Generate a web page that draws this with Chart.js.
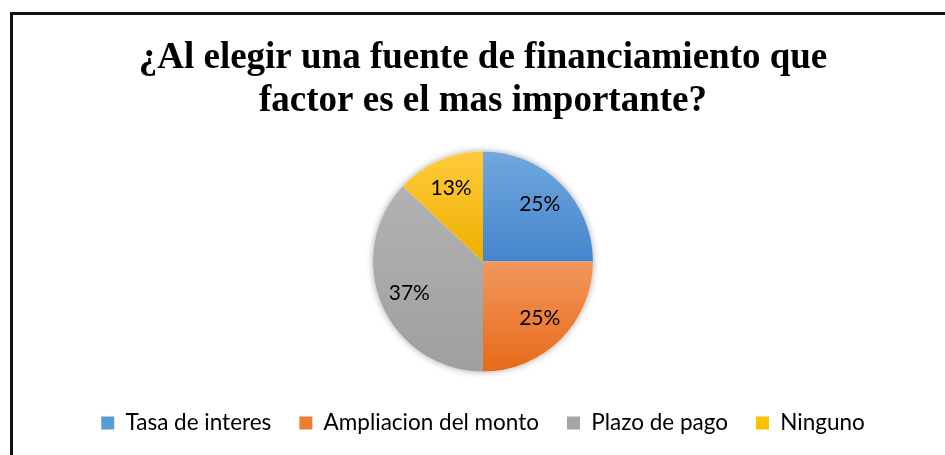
<!DOCTYPE html>
<html><head><meta charset="utf-8">
<script src="https://cdn.jsdelivr.net/npm/chart.js@4"></script>
<style>
html,body{margin:0;padding:0;background:#fff;overflow:hidden;width:945px;height:455px}
#wrap{position:absolute;left:10px;top:12px;width:960px;height:460px;border-left:3px solid #111;border-top:3px solid #111;background:#fff}
canvas{position:absolute;left:0;top:0}
</style></head>
<body><div id="wrap"><canvas id="c" width="940" height="440"></canvas></div>
<script>
const categories = ['Tasa de interes', 'Ampliacion del monto', 'Plazo de pago', 'Ninguno'];
const values = [25, 25, 37, 13];
const percentLabels = ['25%', '25%', '37%', '13%'];
const titleLines = ['¿Al elegir una fuente de financiamiento que', 'factor es el mas importante?'];
const topColors = ['#70A8DE', '#F2975E', '#B2B2B2', '#FFCA3C'];
const bottomColors = ['#4485CC', '#E66A18', '#9F9F9F', '#EDB000'];
const legendColors = ['#5B9BD5', '#ED7D31', '#A5A5A5', '#FFC000'];

const PIE_R = 110;

function sliceGradient(context) {
  const chart = context.chart, area = chart.chartArea, i = context.dataIndex;
  if (!area) return legendColors[i];
  const cx = (area.left + area.right) / 2, cy = (area.top + area.bottom) / 2;
  const total = values.reduce((a, b) => a + b, 0);
  let a0 = -Math.PI / 2;
  for (let k = 0; k < i; k++) a0 += values[k] / total * 2 * Math.PI;
  const a1 = a0 + values[i] / total * 2 * Math.PI;
  const ys = [cy, cy + Math.sin(a0) * PIE_R, cy + Math.sin(a1) * PIE_R];
  for (const ang of [-Math.PI / 2, Math.PI / 2, 3 * Math.PI / 2]) {
    if (ang >= a0 - 1e-9 && ang <= a1 + 1e-9) ys.push(cy + Math.sin(ang) * PIE_R);
  }
  const g = chart.ctx.createLinearGradient(0, Math.min(...ys), 0, Math.max(...ys));
  g.addColorStop(0, topColors[i]);
  g.addColorStop(1, bottomColors[i]);
  return g;
}

const shadowPlugin = {
  id: 'pieShadow',
  beforeDatasetsDraw(chart) {
    const el = chart.getDatasetMeta(0).data[0];
    if (!el) return;
    const c = chart.ctx;
    c.save();
    c.shadowColor = 'rgba(0,0,0,0.35)';
    c.shadowBlur = 7;
    c.fillStyle = '#ffffff';
    c.beginPath();
    c.arc(el.x, el.y, el.outerRadius, 0, Math.PI * 2);
    c.fill();
    c.restore();
  }
};

const labelPlugin = {
  id: 'sliceLabels',
  afterDatasetsDraw(chart) {
    const c = chart.ctx;
    c.save();
    c.font = '21px Lato';
    c.fillStyle = '#000';
    c.textAlign = 'center';
    c.textBaseline = 'middle';
    chart.getDatasetMeta(0).data.forEach((el, i) => {
      const mid = (el.startAngle + el.endAngle) / 2;
      const r = el.outerRadius * 0.73;
      c.fillText(percentLabels[i], el.x + Math.cos(mid) * r, el.y + Math.sin(mid) * r);
    });
    c.restore();
  }
};

new Chart(document.getElementById('c'), {
  type: 'pie',
  data: {
    labels: categories,
    datasets: [{
      data: values,
      backgroundColor: sliceGradient,
      borderWidth: 0,
      radius: PIE_R
    }]
  },
  options: {
    responsive: false,
    animation: false,
    devicePixelRatio: 1,
    layout: { padding: { top: 0, bottom: 10.75, left: 0, right: 0 } },
    plugins: {
      tooltip: { enabled: false },
      title: {
        display: true,
        text: titleLines,
        color: '#000',
        font: { family: 'Liberation Serif', size: 37, weight: 'bold', lineHeight: 43 / 37 },
        padding: { top: 21.5, bottom: 16.75 }
      },
      legend: {
        position: 'bottom',
        labels: {
          boxWidth: 13,
          boxHeight: 13,
          padding: 28,
          color: '#1a1a1a',
          font: { family: 'Lato', size: 22.5 },
          generateLabels() {
            return categories.map((c, i) => ({
              text: c, fillStyle: legendColors[i], strokeStyle: legendColors[i],
              lineWidth: 0, hidden: false, index: i, datasetIndex: 0
            }));
          }
        }
      }
    }
  },
  plugins: [shadowPlugin, labelPlugin]
});
</script>
</body></html>
